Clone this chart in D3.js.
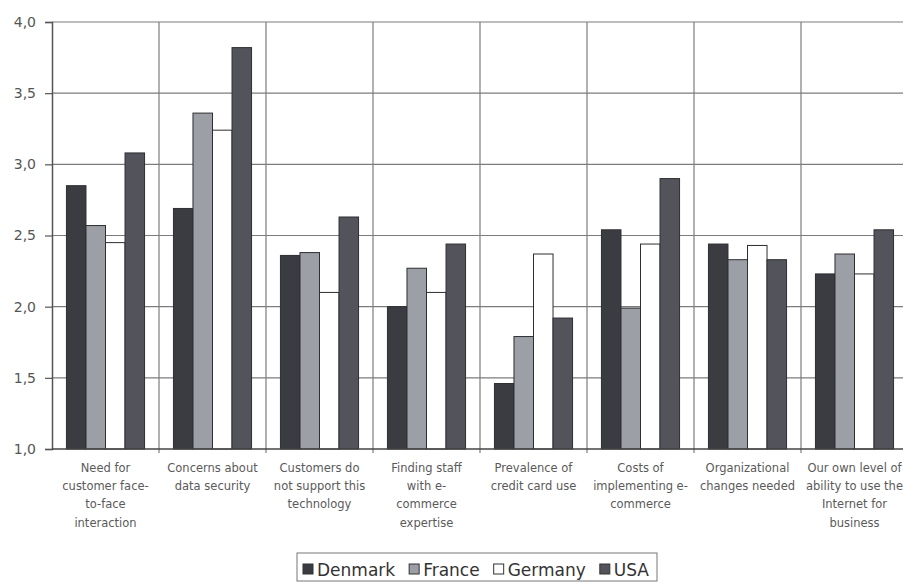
<!DOCTYPE html>
<html>
<head>
<meta charset="utf-8">
<script src="https://cdn.jsdelivr.net/npm/d3@7"></script>
<style>
  html, body { margin: 0; padding: 0; background: #fff; }
  svg { display: block; }
</style>
</head>
<body>
<svg id="chart" width="903" height="586"></svg>
<script>
const categories = [
  "Need for\ncustomer face-\nto-face\ninteraction",
  "Concerns about\ndata security",
  "Customers do\nnot support this\ntechnology",
  "Finding staff\nwith e-\ncommerce\nexpertise",
  "Prevalence of\ncredit card use",
  "Costs of\nimplementing e-\ncommerce",
  "Organizational\nchanges needed",
  "Our own level of\nability to use the\nInternet for\nbusiness"
];
const seriesNames = ["Denmark", "France", "Germany", "USA"];
const denmark = [2.85, 2.69, 2.36, 2.00, 1.46, 2.54, 2.44, 2.23];
const france  = [2.57, 3.36, 2.38, 2.27, 1.79, 1.99, 2.33, 2.37];
const germany = [2.45, 3.24, 2.10, 2.10, 2.37, 2.44, 2.43, 2.23];
const usa     = [3.08, 3.82, 2.63, 2.44, 1.92, 2.90, 2.33, 2.54];
const yTicks = [1.0, 1.5, 2.0, 2.5, 3.0, 3.5, 4.0];
const yTickLabels = ["1,0", "1,5", "2,0", "2,5", "3,0", "3,5", "4,0"];

const seriesValues = [denmark, france, germany, usa];
const colors = ["#3b3c41", "#9d9fa7", "#ffffff", "#53535c"];

(function () {
const svg = d3.select("#chart");
const pLeft = 52, pRight = 908, pTop = 22, pBottom = 449;

const y = d3.scaleLinear().domain([1, 4]).range([pBottom, pTop]);
const x0 = d3.scaleBand().domain(categories).range([pLeft, pRight]).padding(0);
const x1 = d3.scaleBand().domain(seriesNames).range([0, x0.bandwidth()])
  .paddingInner(0).paddingOuter(0.74);

const font = "'DejaVu Sans', Arial, sans-serif";

// horizontal gridlines
svg.append("g").selectAll("line")
  .data(yTicks.filter(t => t > 1))
  .join("line")
  .attr("x1", pLeft).attr("x2", pRight)
  .attr("y1", d => y(d)).attr("y2", d => y(d))
  .attr("stroke", "#7c7c7c").attr("stroke-width", 1.2);

// vertical gridlines at category boundaries
svg.append("g").selectAll("line")
  .data(categories.slice(1))
  .join("line")
  .attr("x1", d => x0(d)).attr("x2", d => x0(d))
  .attr("y1", pTop).attr("y2", pBottom + 4)
  .attr("stroke", "#7c7c7c").attr("stroke-width", 1.2);

// bars
const rows = [];
categories.forEach((c, i) => {
  seriesNames.forEach((s, j) => rows.push({ c, s, j, v: seriesValues[j][i] }));
});
svg.append("g").selectAll("rect")
  .data(rows)
  .join("rect")
  .attr("x", d => x0(d.c) + x1(d.s))
  .attr("y", d => y(d.v))
  .attr("width", x1.bandwidth())
  .attr("height", d => y(1) - y(d.v))
  .attr("fill", d => colors[d.j])
  .attr("stroke", "#2e2e32")
  .attr("stroke-width", 1);

// left axis
const yAxis = d3.axisLeft(y).tickValues(yTicks)
  .tickFormat((d, i) => yTickLabels[i]).tickSize(7).tickPadding(9);
const ga = svg.append("g").attr("transform", `translate(${pLeft},0)`).call(yAxis);
ga.select(".domain").attr("stroke", "#555").attr("stroke-width", 1.5);
ga.selectAll(".tick line").attr("stroke", "#555").attr("stroke-width", 1.2);
ga.selectAll(".tick text").attr("font-family", font).attr("font-size", 14)
  .attr("fill", "#555");

// bottom axis line
svg.append("line").attr("x1", pLeft).attr("x2", pRight)
  .attr("y1", pBottom).attr("y2", pBottom)
  .attr("stroke", "#444").attr("stroke-width", 1.5);

// category labels
const lab = svg.append("g").selectAll("text")
  .data(categories)
  .join("text")
  .attr("x", d => x0(d) + x0.bandwidth() / 2)
  .attr("y", 472)
  .attr("text-anchor", "middle")
  .attr("font-family", font).attr("font-size", 11.5)
  .attr("fill", "#5a5a5a");
lab.each(function(d) {
  const t = d3.select(this);
  d.split("\n").forEach((line, k) => {
    t.append("tspan").attr("x", x0(d) + x0.bandwidth() / 2)
      .attr("dy", k === 0 ? 0 : 18.2).text(line);
  });
});

// legend
const lg = svg.append("g");
const box = lg.append("rect").attr("fill", "#fff").attr("stroke", "#777").attr("stroke-width", 1);
let cx = 303;
seriesNames.forEach((s, j) => {
  lg.append("rect").attr("x", cx).attr("y", 564).attr("width", 10).attr("height", 10)
    .attr("fill", colors[j]).attr("stroke", "#333").attr("stroke-width", 1);
  const t = lg.append("text").attr("x", cx + 14).attr("y", 575.5)
    .attr("font-family", font).attr("font-size", 17).attr("fill", "#333").text(s);
  cx += 14 + t.node().getComputedTextLength() + 14;
});
box.attr("x", 297).attr("y", 553).attr("width", cx - 297 - 6).attr("height", 28);
})();
</script>
</body>
</html>
